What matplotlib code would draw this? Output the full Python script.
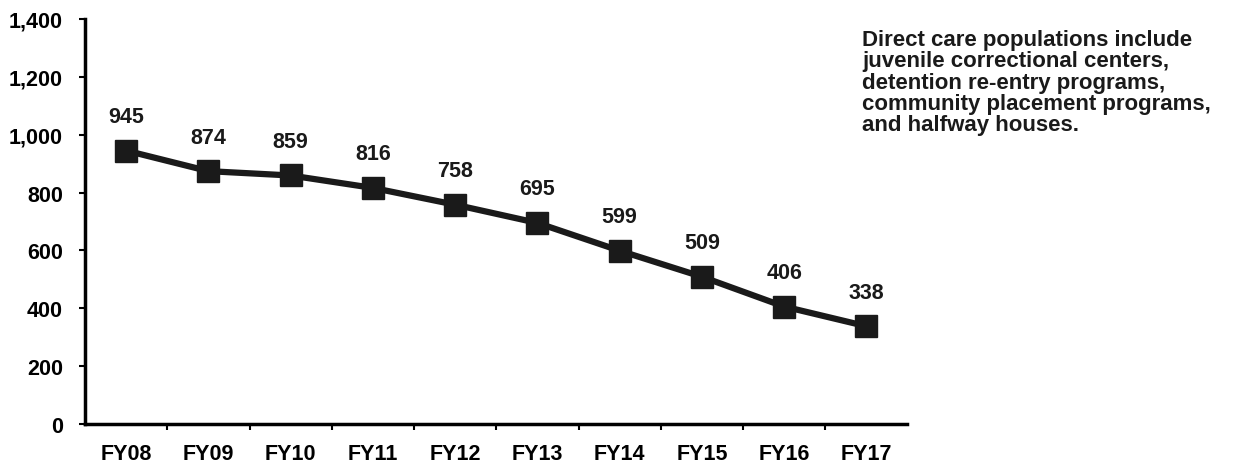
import matplotlib
matplotlib.use('Agg')
import matplotlib.pyplot as plt
import matplotlib.ticker as mticker

plt.rcParams['font.family'] = ['Liberation Sans', 'DejaVu Sans']
plt.rcParams['font.weight'] = 'bold'

years = ["FY08", "FY09", "FY10", "FY11", "FY12", "FY13", "FY14", "FY15", "FY16", "FY17"]
population = [945, 874, 859, 816, 758, 695, 599, 509, 406, 338]
y_ticks = [0, 200, 400, 600, 800, 1000, 1200, 1400]

note = ("Direct care populations include\n"
        "juvenile correctional centers,\n"
        "detention re-entry programs,\n"
        "community placement programs,\n"
        "and halfway houses.")

fig = plt.figure(figsize=(12.33, 4.64), dpi=100)
fig.patch.set_facecolor("white")
ax = fig.add_axes([0.069, 0.084, 0.667, 0.873])

x = range(len(years))
ax.plot(x, population, color="#1a1a1a", linewidth=4.5, marker="s",
        markersize=16, markerfacecolor="#1a1a1a", markeredgecolor="#1a1a1a")

for xi, v in zip(x, population):
    ax.annotate(f"{v:,}", (xi, v), xytext=(0, 17), textcoords="offset points",
                ha="center", va="bottom", fontsize=15.5, fontweight="bold", color="#1a1a1a")

ax.set_xlim(-0.5, len(years) - 0.5)
ax.set_ylim(0, 1400)
ax.set_yticks(y_ticks)
ax.yaxis.set_major_formatter(mticker.FuncFormatter(lambda v, p: f"{int(v):,}"))

# category labels centred, tick marks at category boundaries
ax.set_xticks(list(x))
ax.set_xticklabels(years, fontsize=15.5, fontweight="bold")
ax.tick_params(axis="x", which="major", length=0, pad=14)
ax.set_xticks([i + 0.5 for i in range(len(years) - 1)], minor=True)
ax.tick_params(axis="x", which="minor", length=4, width=1.5, direction="out")
ax.tick_params(axis="y", labelsize=15.5, length=4, width=1.5, direction="out", pad=12)

for lbl in ax.get_yticklabels():
    lbl.set_fontweight("bold")

ax.spines["top"].set_visible(False)
ax.spines["right"].set_visible(False)
ax.spines["left"].set_linewidth(2.5)
ax.spines["bottom"].set_linewidth(2.5)

fig.text(0.699, 0.935, note, ha="left", va="top", fontsize=16, fontweight="bold",
         color="#1a1a1a", linespacing=1.02)

fig.savefig("out.png", dpi=100, facecolor="white")
